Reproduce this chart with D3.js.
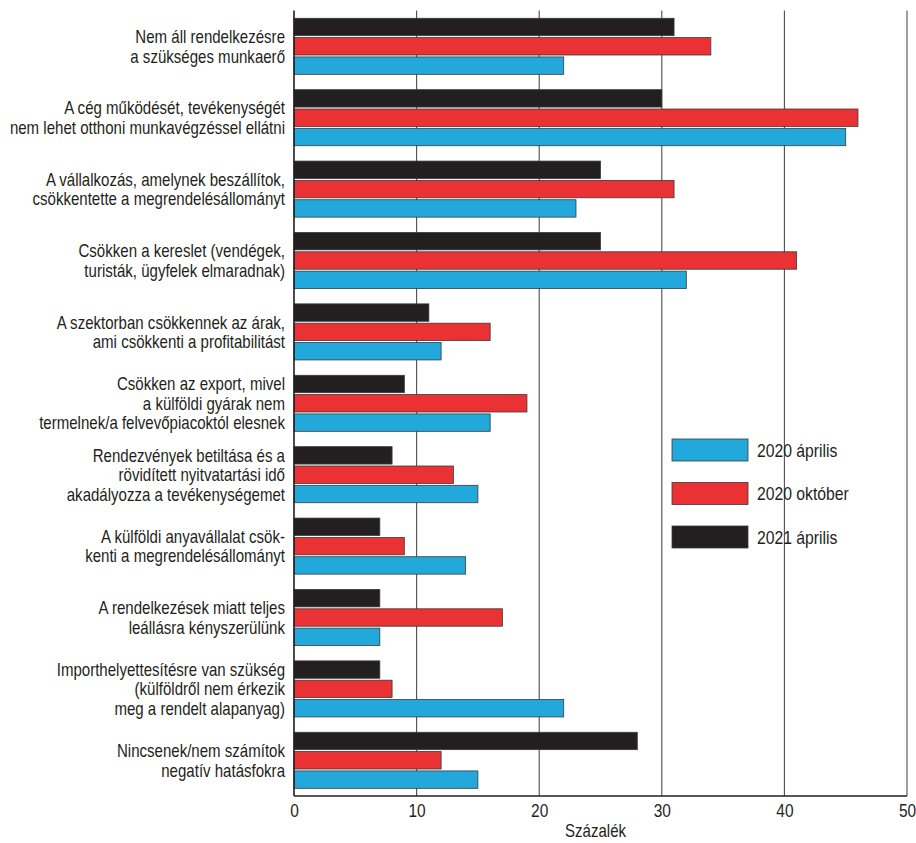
<!DOCTYPE html>
<html>
<head>
<meta charset="utf-8">
<script src="https://cdn.jsdelivr.net/npm/d3@7"></script>
<style>
  body { margin: 0; background: #fff; }
  text { font-family: "Liberation Sans", Arial, sans-serif; fill: #231f20; }
</style>
</head>
<body>
<div id="chart-area"></div>
<script>
// Kategóriák (felülről lefelé), soronként tördelve
const categories = [
  ["Nem áll rendelkezésre", "a szükséges munkaerő"],
  ["A cég működését, tevékenységét", "nem lehet otthoni munkavégzéssel ellátni"],
  ["A vállalkozás, amelynek beszállítok,", "csökkentette a megrendelésállományt"],
  ["Csökken a kereslet (vendégek,", "turisták, ügyfelek elmaradnak)"],
  ["A szektorban csökkennek az árak,", "ami csökkenti a profitabilitást"],
  ["Csökken az export, mivel", "a külföldi gyárak nem", "termelnek/a felvevőpiacoktól elesnek"],
  ["Rendezvények betiltása és a", "rövidített nyitvatartási idő", "akadályozza a tevékenységemet"],
  ["A külföldi anyavállalat csök-", "kenti a megrendelésállományt"],
  ["A rendelkezések miatt teljes", "leállásra kényszerülünk"],
  ["Importhelyettesítésre van szükség", "(külföldről nem érkezik", "meg a rendelt alapanyag)"],
  ["Nincsenek/nem számítok", "negatív hatásfokra"]
];

const seriesNames = ["2021 április", "2020 október", "2020 április"];
const apr2021 = [31, 30, 25, 25, 11, 9, 8, 7, 7, 7, 28];
const okt2020 = [34, 46, 31, 41, 16, 19, 13, 9, 17, 8, 12];
const apr2020 = [22, 45, 23, 32, 12, 16, 15, 14, 7, 22, 15];
const legendOrder = ["2020 április", "2020 október", "2021 április"];
const xTicks = [0, 10, 20, 30, 40, 50];
const xTitle = "Százalék";

const colors = { "2020 április": "#22a8da", "2020 október": "#ea3133", "2021 április": "#231f20" };

// keskeny betűkép utánzása vízszintes zsugorítással
const narrow = 0.86;
const fs = 17.5;

const W = 916, H = 843;
const margin = { top: 10.6, right: 9, bottom: 47, left: 294 };
const width = W - margin.left - margin.right;
const height = H - margin.top - margin.bottom;

const svg = d3.select("#chart-area")
  .append("svg")
  .attr("width", W)
  .attr("height", H);

const g = svg.append("g")
  .attr("transform", `translate(${margin.left},${margin.top})`);

const rows = categories.map((c, i) => ({
  label: c,
  values: [apr2021[i], okt2020[i], apr2020[i]]
}));

const x = d3.scaleLinear().domain([0, 50]).range([0, width]);

const y = d3.scaleBand()
  .domain(d3.range(rows.length))
  .range([0, height])
  .paddingInner(0.215)
  .paddingOuter(0.1075);

const ySub = d3.scaleBand()
  .domain(seriesNames)
  .range([0, y.bandwidth()])
  .paddingInner(0.1);

// Rácsvonalak
g.selectAll(".grid")
  .data(xTicks.filter(t => t > 0))
  .enter()
  .append("line")
  .attr("class", "grid")
  .attr("x1", d => x(d))
  .attr("x2", d => x(d))
  .attr("y1", 0)
  .attr("y2", height)
  .attr("stroke", "#4d4d4d")
  .attr("stroke-width", 1.1);

// Oszlopok
const groups = g.selectAll(".group")
  .data(rows)
  .enter()
  .append("g")
  .attr("class", "group")
  .attr("transform", (d, i) => `translate(0,${y(i)})`);

groups.selectAll("rect")
  .data(d => d.values.map((v, j) => ({ key: seriesNames[j], value: v })))
  .enter()
  .append("rect")
  .attr("x", 0)
  .attr("y", d => ySub(d.key))
  .attr("width", d => x(d.value))
  .attr("height", ySub.bandwidth())
  .attr("fill", d => colors[d.key])
  .attr("stroke", "#3a3a3a")
  .attr("stroke-width", 0.8);

// Kategória címkék
const lineH = 19.5;
groups.append("g")
  .attr("transform", `translate(-9,0) scale(${narrow},1)`)
  .append("text")
  .attr("text-anchor", "end")
  .attr("font-size", fs)
  .each(function(d) {
    const t = d3.select(this);
    const n = d.label.length;
    d.label.forEach((line, k) => {
      t.append("tspan")
        .attr("x", 0)
        .attr("y", y.bandwidth() / 2 + (k - (n - 1) / 2) * lineH + 6.5)
        .text(line);
    });
  });

// Tengelyek
g.append("line")
  .attr("x1", 0).attr("x2", 0)
  .attr("y1", 0).attr("y2", height)
  .attr("stroke", "#231f20")
  .attr("stroke-width", 1.6);

g.append("line")
  .attr("x1", 0).attr("x2", width)
  .attr("y1", height).attr("y2", height)
  .attr("stroke", "#231f20")
  .attr("stroke-width", 1.6);

const xAxis = g.append("g")
  .attr("transform", `translate(0,${height})`)
  .call(d3.axisBottom(x).tickValues(xTicks).tickSize(0).tickPadding(8));
xAxis.select(".domain").remove();
xAxis.selectAll("text")
  .attr("font-size", 18)
  .attr("fill", "#231f20")
  .attr("transform", `scale(${narrow},1)`);

g.append("text")
  .attr("transform", `translate(${x(25) - 5},${height + 41}) scale(${narrow},1)`)
  .attr("text-anchor", "middle")
  .attr("font-size", fs)
  .text(xTitle);

// Jelmagyarázat
const legend = g.selectAll(".legend")
  .data(legendOrder)
  .enter()
  .append("g")
  .attr("class", "legend")
  .attr("transform", (d, i) => `translate(${672 - margin.left},${439 - margin.top + i * 43.5})`);

legend.append("rect")
  .attr("width", 76)
  .attr("height", 22)
  .attr("fill", d => colors[d])
  .attr("stroke", "#3a3a3a")
  .attr("stroke-width", 0.8);

legend.append("text")
  .attr("transform", `translate(85,17.5) scale(0.9,1)`)
  .attr("font-size", fs)
  .text(d => d);
</script>
</body>
</html>
